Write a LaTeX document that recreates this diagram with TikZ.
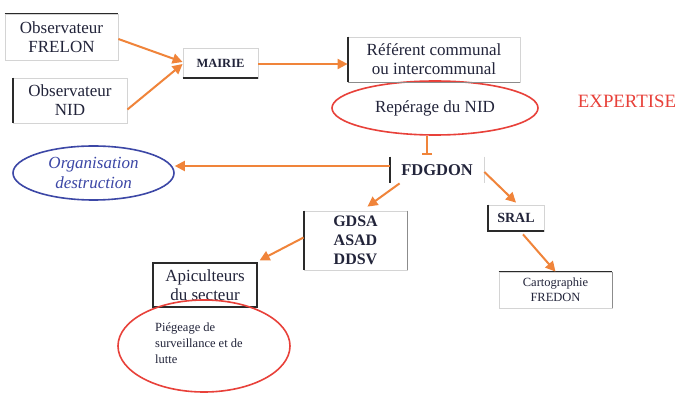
\documentclass[tikz,border=0pt]{standalone}
\usepackage{fontspec}
\setmainfont{Liberation Serif}
\usetikzlibrary{arrows.meta,shapes.geometric}
\definecolor{arr}{HTML}{F0843A}
\definecolor{redl}{HTML}{E8413A}
\definecolor{bluel}{HTML}{3C47A6}
\definecolor{txt}{HTML}{22243A}
\definecolor{darkedge}{HTML}{2A2A2A}
\definecolor{lightedge}{HTML}{D4D4D4}
\definecolor{midedge}{HTML}{8C8C8C}
\tikzset{
  box/.style={rectangle, draw=lightedge, line width=0.8pt, inner sep=0pt, align=center, text=txt,
    font=\fontsize{17}{19}\selectfont},
  dk/.style={draw=darkedge, line width=1.8pt},
  md/.style={draw=midedge, line width=1.4pt},
  conn/.style={draw=arr, line width=2pt, -{Triangle[length=10pt,width=10pt]}},
  tbar/.style={draw=arr, line width=2pt, -{Bar[width=10pt,line width=2pt]}},
  redell/.style={ellipse, draw=redl, line width=1.6pt, inner sep=0pt},
}
\begin{document}
\begin{tikzpicture}[x=1pt,y=-1pt]
\useasboundingbox[fill=white] (0,0) rectangle (680,395);

% boxes
\node[box, minimum width=113pt, minimum height=46pt] (frelon) at (61.5,37) {Observateur\\FRELON};
\node[box, minimum width=114pt, minimum height=45pt] (nid) at (70,100.5) {Observateur\\NID};
\node[box, minimum width=75pt, minimum height=30pt, font=\fontsize{12.5}{14}\selectfont\bfseries] (mairie) at (220.5,63) {MAIRIE};
\node[box, minimum width=172pt, minimum height=45pt] (referent) at (434,59.5) {Référent communal\\ou intercommunal};
\node[redell, minimum width=206pt, minimum height=54pt, text=txt, font=\fontsize{17}{19}\selectfont] (reperage) at (435,108) {Repérage du NID};
\node[text=redl, font=\fontsize{18.8}{20}\selectfont, inner sep=0pt] (expertise) at (627,101) {EXPERTISE};
\node[box, draw=none, minimum width=94pt, minimum height=26pt, font=\fontsize{16.5}{18}\selectfont\bfseries] (fdgdon) at (437,170) {FDGDON};
\node[ellipse, draw=bluel, line width=1.6pt, minimum width=161pt, minimum height=54pt, inner sep=0pt,
  align=center, text=bluel, font=\fontsize{17}{20}\selectfont\itshape] (orga) at (93.5,173) {Organisation\\destruction};
\node[box, minimum width=103pt, minimum height=59pt, font=\fontsize{16}{19}\selectfont\bfseries] (gdsa) at (355.5,240.5) {GDSA\\ASAD\\DDSV};
\node[box, minimum width=56pt, minimum height=26pt, font=\fontsize{14}{16}\selectfont\bfseries] (sral) at (516,218) {SRAL};
\node[box, minimum width=113pt, minimum height=36pt, font=\fontsize{12.5}{15}\selectfont] (carto) at (555.5,290) {Cartographie\\FREDON};
\node[box, draw=darkedge, line width=1.3pt, minimum width=104pt, minimum height=44pt] (apic) at (205,285) {Apiculteurs\\du secteur};
\node[redell, minimum width=172pt, minimum height=92pt] (piege) at (204,346) {};
\node[anchor=north west, align=left, inner sep=0pt, text=txt, font=\fontsize{12.5}{16}\selectfont] (piegetxt) at (155,323) {Piégeage de\\surveillance et de\\lutte};

% dark / mid edges of the boxes
\draw[dk] (frelon.north west) -- (frelon.north east);
\draw[dk] (nid.north west) -- (nid.south west);
\draw[dk] (mairie.south west) -- (mairie.south east);
\draw[dk] (referent.north west) -- (referent.south west);
\draw[md] (referent.south west) -- (referent.south east);
\draw[dk] (fdgdon.north west) -- (fdgdon.south west);
\draw[draw=lightedge, line width=0.8pt] (fdgdon.north east) -- (fdgdon.south east);
\draw[dk] (gdsa.north west) -- (gdsa.south west);
\draw[md] (gdsa.north east) -- (gdsa.south east);
\draw[dk] (sral.north west) -- (sral.south west) -- (sral.south east);
\draw[dk] (carto.north west) -- (carto.north east);
\draw[md] (carto.north east) -- (carto.south east);

% connectors
\draw[conn] ([yshift=-2pt]frelon.east) -- ([yshift=1pt]mairie.west);
\draw[conn] ([yshift=-9pt]nid.east) -- ([yshift=-1pt]mairie.west);
\draw[conn] ([yshift=-1pt]mairie.east) -- ([yshift=-1pt]mairie.east -| referent.west);
\draw[tbar] ([xshift=-8pt]reperage.south) -- ([xshift=-8pt,yshift=2pt]reperage.south |- fdgdon.north);
\draw[conn] ([yshift=4pt]fdgdon.west) -- ([yshift=4pt]fdgdon.west -| orga.east);
\draw[conn] ([xshift=10pt]fdgdon.south west) -- ([xshift=12pt,yshift=4pt]gdsa.north);
\draw[conn] ([yshift=-2pt]fdgdon.east) -- ([yshift=2pt]sral.north);
\draw[conn] ([xshift=7pt,yshift=-3pt]sral.south) -- (carto.north);
\draw[conn] ([yshift=3pt]gdsa.west) -- ([xshift=2pt,yshift=2pt]apic.north east);
\end{tikzpicture}
\end{document}
